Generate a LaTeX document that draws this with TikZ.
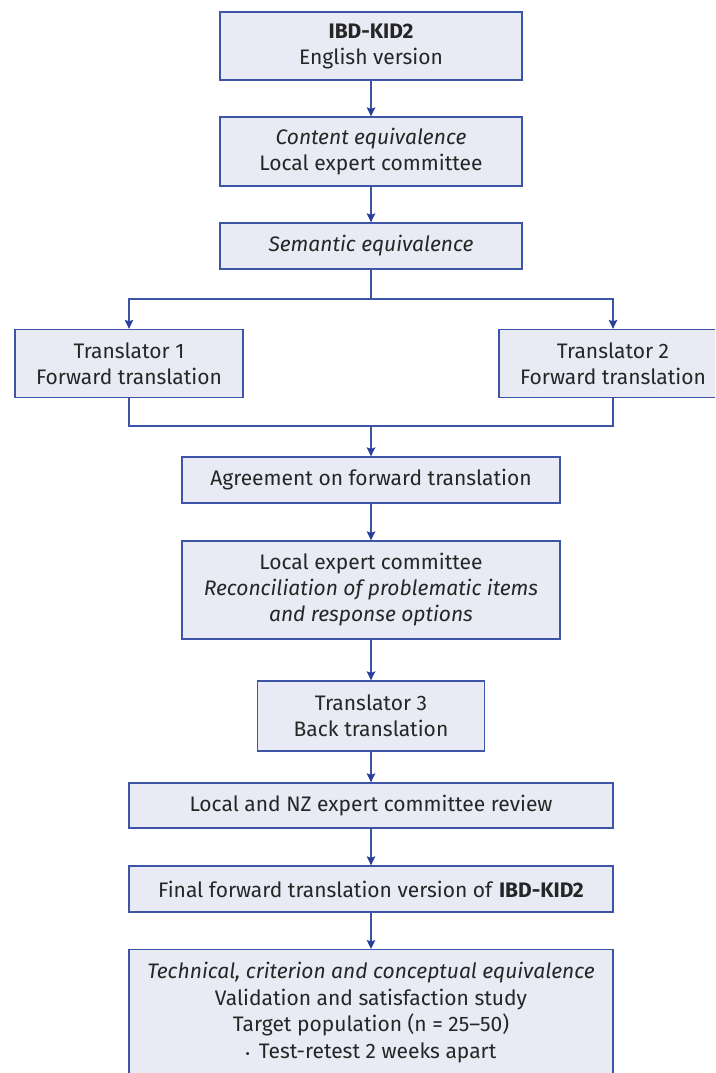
\documentclass[tikz,border=0pt]{standalone}
\usepackage{fontspec}
\setmainfont{Fira Sans}
\usetikzlibrary{arrows.meta}
\definecolor{lineblue}{RGB}{62,84,166}
\definecolor{arrowblue}{RGB}{40,64,156}
\definecolor{boxfill}{RGB}{232,234,244}
\definecolor{txt}{RGB}{38,38,38}
\begin{document}
\begin{tikzpicture}[x=1pt,y=-1pt,
  box/.style={draw=lineblue, fill=boxfill, line width=1.3pt, align=center,
    text=txt, inner sep=0pt, font=\fontsize{21}{26}\selectfont},
  conn/.style={draw=lineblue, line width=1.3pt},
  arr/.style={conn, -{Stealth[length=9pt,width=8.5pt,inset=1.5pt,color=arrowblue]}}]
\clip (0,0) rectangle (715,1073);
\useasboundingbox (0,0) rectangle (715,1073);
\node[box, minimum width=302pt, minimum height=68pt] (b1) at (371,46) {\textbf{IBD-KID2}\\English version};
\node[box, minimum width=302pt, minimum height=69pt] (b2) at (371,151.5) {\textit{Content equivalence}\\Local expert committee};
\node[box, minimum width=302pt, minimum height=46pt] (b3) at (371,246) {\textit{Semantic equivalence}};
\node[box, minimum width=228pt, minimum height=68pt] (t1) at (129,363.5) {Translator 1\\Forward translation};
\node[box, minimum width=228pt, minimum height=68pt] (t2) at (613,363.5) {Translator 2\\Forward translation};
\node[box, minimum width=378pt, minimum height=46pt] (b4) at (371,480) {Agreement on forward translation};
\node[box, minimum width=378pt, minimum height=98pt] (b5) at (371,590) {Local expert committee\\\textit{Reconciliation of problematic items}\\\textit{and response options}};
\node[box, minimum width=227pt, minimum height=70pt] (b6) at (371,716) {Translator 3\\Back translation};
\node[box, minimum width=484pt, minimum height=45pt] (b7) at (371,805.5) {Local and NZ expert committee review};
\node[box, minimum width=484pt, minimum height=46pt] (b8) at (371,889) {Final forward translation version of \textbf{IBD-KID2}};
\node[box, minimum width=484pt, minimum height=150pt, anchor=north] (b9) at (371,949) {};
\node[align=center, text=txt, inner sep=0pt, anchor=north, font=\fontsize{21}{26.5}\selectfont] (b9t) at (371,962)
  {\textit{Technical, criterion and conceptual equivalence}\\Validation and satisfaction study\\Target population (n = 25–50)\\{\fontsize{13}{13}\selectfont •}\, Test-retest 2 weeks apart};
\coordinate (split) at (371,299);
\coordinate (merge) at (371,426);
\draw[arr] (b1.south) -- (b2.north);
\draw[arr] (b2.south) -- (b3.north);
\draw[conn] (b3.south) -- (split);
\draw[arr] (split) -| (t1.north);
\draw[arr] (split) -| (t2.north);
\draw[conn] (t1.south) |- (merge) -| (t2.south);
\draw[arr] (merge) -- (b4.north);
\draw[arr] (b4.south) -- (b5.north);
\draw[arr] (b5.south) -- (b6.north);
\draw[arr] (b6.south) -- (b7.north);
\draw[arr] (b7.south) -- (b8.north);
\draw[arr] (b8.south) -- (b9.north);
\end{tikzpicture}
\end{document}
